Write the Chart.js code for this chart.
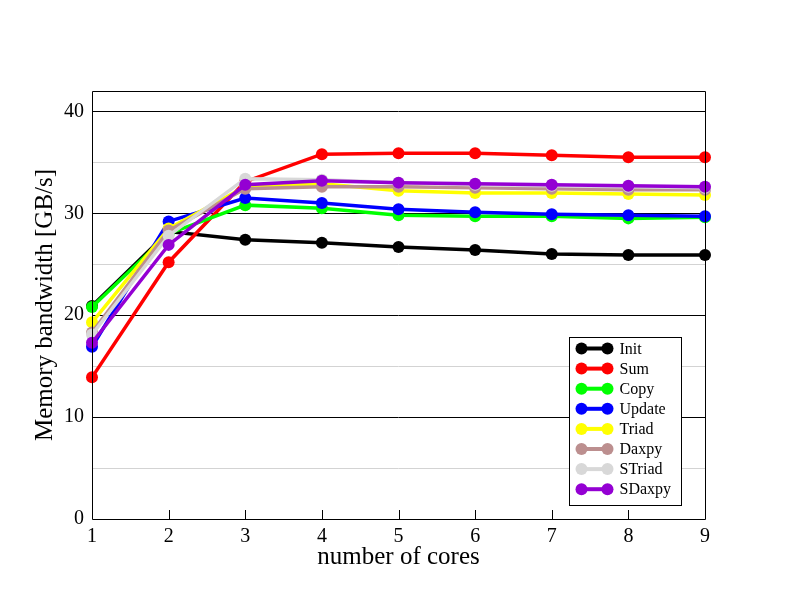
<!DOCTYPE html>
<html>
<head>
<meta charset="utf-8">
<script src="https://cdn.jsdelivr.net/npm/chart.js@4/dist/chart.umd.min.js"></script>
<style>
  html, body { margin: 0; padding: 0; background: #fff; }
  #wrap { width: 792px; height: 612px; }
</style>
</head>
<body>
<div id="wrap"><canvas id="c" width="792" height="612"></canvas></div>
<script>
const cores = ['1', '2', '3', '4', '5', '6', '7', '8', '9'];
const seriesNames = ['Init', 'Sum', 'Copy', 'Update', 'Triad', 'Daxpy', 'STriad', 'SDaxpy'];
const seriesColors = ['#000000', '#ff0000', '#00ff00', '#0000ff', '#ffff00', '#bc8f8f', '#d8d8d8', '#9400d3'];
const initVals   = [20.9, 28.2, 27.4, 27.1, 26.7, 26.4, 26.0, 25.9, 25.9];
const sumVals    = [13.9, 25.2, 33.1, 35.8, 35.9, 35.9, 35.7, 35.5, 35.5];
const copyVals   = [20.8, 28.0, 30.8, 30.5, 29.8, 29.7, 29.7, 29.5, 29.6];
const updateVals = [16.9, 29.2, 31.5, 31.0, 30.4, 30.1, 29.9, 29.8, 29.7];
const triadVals  = [19.3, 28.5, 32.6, 32.9, 32.2, 32.0, 32.0, 31.9, 31.8];
const daxpyVals  = [18.3, 28.3, 32.4, 32.6, 32.6, 32.5, 32.4, 32.3, 32.3];
const striadVals = [18.1, 27.8, 33.4, 33.3, 33.0, 32.8, 32.7, 32.6, 32.5];
const sdaxpyVals = [17.3, 26.9, 32.8, 33.2, 33.0, 32.9, 32.8, 32.7, 32.6];
const yTicks = [0, 10, 20, 30, 40];

const allVals = [initVals, sumVals, copyVals, updateVals, triadVals, daxpyVals, striadVals, sdaxpyVals];
const FONT = '"Liberation Serif", "DejaVu Serif", serif';

const datasets = allVals.map((vals, i) => ({
  label: seriesNames[i],
  data: vals,
  borderColor: seriesColors[i],
  backgroundColor: seriesColors[i],
  pointBackgroundColor: seriesColors[i],
  pointBorderColor: seriesColors[i],
  borderWidth: 3.5,
  pointRadius: 6,
  pointBorderWidth: 0,
  pointHoverRadius: 6,
  tension: 0,
  fill: false,
  clip: false,
  order: allVals.length - i
}));

const framePlugin = {
  id: 'frame',
  afterDatasetsDraw(chart) {
    const {ctx, chartArea: a} = chart;
    const xs = chart.scales.x;
    ctx.save();
    ctx.strokeStyle = '#000';
    ctx.lineWidth = 1;
    ctx.beginPath();
    ctx.rect(Math.round(a.left) + 0.5, Math.round(a.top) + 0.5, Math.round(a.right - a.left), Math.round(a.bottom - a.top));
    ctx.stroke();
    // inward ticks on x axis
    ctx.beginPath();
    for (let i = 1; i < cores.length - 1; i++) {
      const px = Math.round(xs.getPixelForValue(i)) + 0.5;
      ctx.moveTo(px, a.bottom);
      ctx.lineTo(px, a.bottom - 9);
    }
    ctx.stroke();
    ctx.restore();
  },
  afterDraw(chart) {
    const {ctx, chartArea: a} = chart;
    const bw = 112, bh = 168;
    const bx = Math.round(a.right - 24 - bw) + 0.5;
    const by = Math.round(a.bottom - 14 - bh) + 0.5;
    ctx.save();
    ctx.fillStyle = '#fff';
    ctx.fillRect(bx, by, bw, bh);
    ctx.strokeStyle = '#000';
    ctx.lineWidth = 1;
    ctx.strokeRect(bx, by, bw, bh);
    ctx.font = '16px ' + FONT;
    ctx.textBaseline = 'middle';
    ctx.textAlign = 'left';
    chart.data.datasets.forEach((ds, i) => {
      const cy = by + 11 + i * 20.1;
      const x1 = bx + 12, x2 = bx + 38;
      ctx.strokeStyle = ds.borderColor;
      ctx.lineWidth = 4;
      ctx.beginPath();
      ctx.moveTo(x1, cy);
      ctx.lineTo(x2, cy);
      ctx.stroke();
      ctx.fillStyle = ds.borderColor;
      [x1, x2].forEach(px => {
        ctx.beginPath();
        ctx.arc(px, cy, 6, 0, Math.PI * 2);
        ctx.fill();
      });
      ctx.fillStyle = '#000';
      ctx.fillText(ds.label, bx + 50, cy + 1);
    });
    ctx.restore();
  }
};

new Chart(document.getElementById('c'), {
  type: 'line',
  data: { labels: cores, datasets },
  options: {
    responsive: false,
    animation: false,
    events: [],
    layout: { padding: { top: 91, right: 87, left: 0, bottom: 0 } },
    plugins: { legend: { display: false }, tooltip: { enabled: false }, title: { display: false } },
    scales: {
      x: {
        type: 'category',
        offset: false,
        grid: { display: false, drawTicks: false },
        border: { display: false },
        ticks: { color: '#000', font: { family: FONT, size: 20 }, padding: 6, maxRotation: 0, autoSkip: false },
        title: { display: true, text: 'number of cores', color: '#000', font: { family: FONT, size: 25 }, padding: { top: 0, bottom: 40 } },
        afterFit(s) { s.height = 93; }
      },
      y: {
        min: 0,
        max: 42,
        afterBuildTicks(s) {
          const t = [];
          for (let v = 0; v <= 40; v += 5) t.push({ value: v });
          s.ticks = t;
        },
        grid: {
          drawTicks: false,
          color: ctx => {
            const v = ctx.tick ? ctx.tick.value : 0;
            if (v === 0) return 'rgba(0,0,0,0)';
            return (v % 10 === 0) ? '#000000' : '#d3d3d3';
          },
          lineWidth: 1
        },
        border: { display: false },
        ticks: {
          color: '#000',
          font: { family: FONT, size: 20 },
          padding: 8,
          callback: v => (yTicks.includes(v) ? String(v) : '')
        },
        title: { display: true, text: 'Memory bandwidth [GB/s]', color: '#000', font: { family: FONT, size: 25 }, padding: { top: 30, bottom: 0 } },
        afterFit(s) { s.width = 92; }
      }
    }
  },
  plugins: [framePlugin]
});
</script>
</body>
</html>
